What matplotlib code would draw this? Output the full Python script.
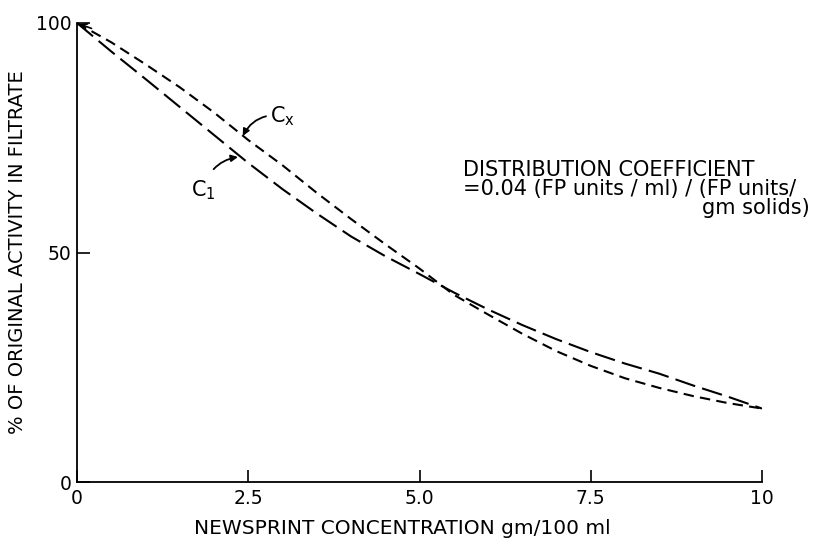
import numpy as np
import matplotlib
matplotlib.use("Agg")
import matplotlib.pyplot as plt

# values (% of original activity vs newsprint gm/100 ml)
conc = [0, 0.5, 1, 1.5, 2, 2.5, 3, 3.5, 4, 4.5, 5, 5.5, 6, 6.5, 7, 7.5, 8, 8.5, 9, 9.5, 10]
c1 = [100, 93.8, 87.8, 81.7, 75.6, 69.5, 63.8, 58.5, 53.5, 49.2, 45.3, 41.3,
      37.6, 34.2, 31.1, 28.3, 25.8, 23.6, 21.0, 18.6, 16.0]
cx = [100, 95.8, 91.0, 86.0, 80.5, 74.5, 69.0, 63.0, 57.3, 51.8, 46.5, 40.8,
      36.5, 32.3, 28.5, 25.3, 22.6, 20.5, 18.7, 17.2, 16.0]

xticks = [0, 2.5, 5.0, 7.5, 10]
xticklabels = ["0", "2.5", "5.0", "7.5", "10"]
yticks = [0, 50, 100]

plt.rcParams['font.family'] = ['DejaVu Sans']

fig = plt.figure(figsize=(8.19, 5.41), dpi=100)
ax = fig.add_axes([77/819, 1 - 482/541, (762-77)/819, (482-23)/541])

ax.plot(conc, c1, color="black", lw=1.5, dashes=(10, 3.5))
ax.plot(conc, cx, color="black", lw=1.5, dashes=(5, 3))

# small arrowhead at the start of the curves
ax.annotate("", xy=(0, 100), xytext=(0.25, 98.6),
            arrowprops=dict(arrowstyle="->", color="black", lw=1.2))

# curve labels
ax.annotate("C$_{\\mathregular{x}}$", xy=(2.42, 75.4), xytext=(2.82, 79.8),
            fontsize=15, va="center", ha="left",
            arrowprops=dict(arrowstyle="-|>", color="black", lw=1.3,
                            connectionstyle="arc3,rad=0.35", shrinkA=1, shrinkB=0,
                            mutation_scale=10))
ax.annotate("C$_{\\mathregular{1}}$", xy=(2.35, 70.8), xytext=(1.85, 63.5),
            fontsize=15, va="center", ha="center",
            arrowprops=dict(arrowstyle="-|>", color="black", lw=1.3,
                            connectionstyle="arc3,rad=-0.35", shrinkA=6, shrinkB=0,
                            mutation_scale=10))

ax.set_xlim(0, 10)
ax.set_ylim(0, 100)
ax.set_xticks(xticks)
ax.set_xticklabels(xticklabels)
ax.set_yticks(yticks)
ax.tick_params(axis="both", direction="in", length=9, width=1.2, labelsize=13.5, pad=5)
ax.tick_params(axis="y", pad=4)

for s in ["top", "right"]:
    ax.spines[s].set_visible(False)
for s in ["left", "bottom"]:
    ax.spines[s].set_linewidth(1.3)

ax.set_xlabel("NEWSPRINT CONCENTRATION gm/100 ml", fontsize=14.5)
ax.xaxis.set_label_coords(0.475, -0.08)
ax.set_ylabel("% OF ORIGINAL ACTIVITY IN FILTRATE", fontsize=14)
ax.yaxis.set_label_coords(-0.073, 0.5)

fig.text(463/819, 1 - 170/541, "DISTRIBUTION COEFFICIENT", fontsize=15, va="center")
fig.text(463/819, 1 - 189/541, "=0.04 (FP units / ml) / (FP units/", fontsize=15, va="center")
fig.text(810/819, 1 - 208/541, "gm solids)", fontsize=15, va="center", ha="right")

fig.savefig("out.png", dpi=100)
